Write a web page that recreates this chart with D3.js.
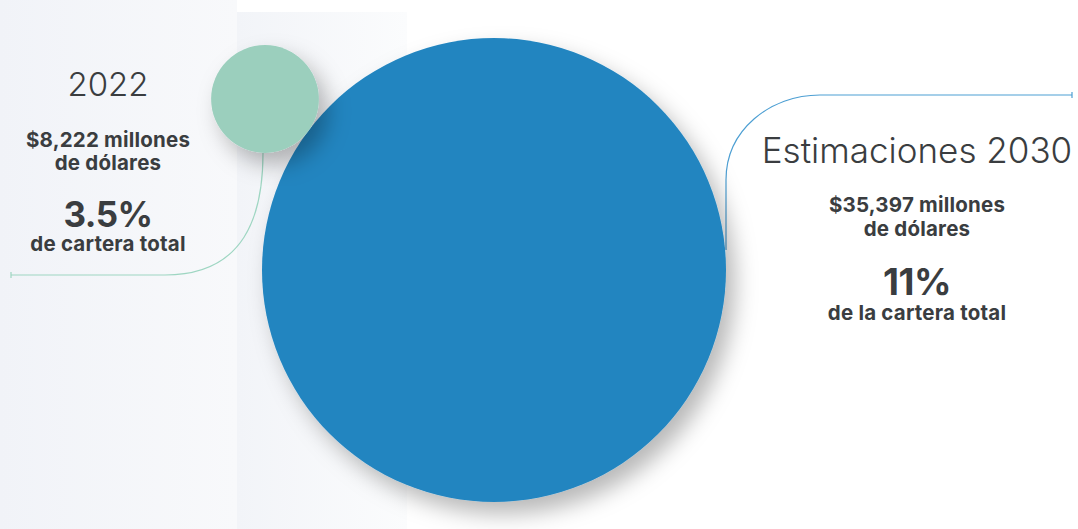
<!DOCTYPE html>
<html>
<head>
<meta charset="utf-8">
<script src="https://cdn.jsdelivr.net/npm/d3@7"></script>
<style>
  html, body { margin: 0; padding: 0; background: #ffffff; }
  svg { display: block; font-family: 'Inter', 'Noto Sans', sans-serif; }
</style>
</head>
<body>
<div id="chart"></div>
<script>
// Chart data
const categories = ['2022', 'Estimaciones 2030'];
const values = [8222, 35397];
const amountLabels = ['$8,222 millones', '$35,397 millones'];
const unitLabels = ['de dólares', 'de dólares'];
const shareLabels = ['3.5%', '11%'];
const shareNotes = ['de cartera total', 'de la cartera total'];

const width = 1078;
const height = 529;

const svg = d3.select('#chart')
  .append('svg')
  .attr('width', width)
  .attr('height', height);

const defs = svg.append('defs');

// Background panels
const g1 = defs.append('linearGradient').attr('id', 'bg1');
g1.append('stop').attr('offset', '0%').attr('stop-color', '#f1f3f8');
g1.append('stop').attr('offset', '100%').attr('stop-color', '#f8f9fb');
const g2 = defs.append('linearGradient').attr('id', 'bg2');
g2.append('stop').attr('offset', '0%').attr('stop-color', '#f2f4f8');
g2.append('stop').attr('offset', '100%').attr('stop-color', '#fbfcfd');

svg.append('rect').attr('x', 0).attr('y', 0).attr('width', 237).attr('height', height).attr('fill', 'url(#bg1)');
svg.append('rect').attr('x', 237).attr('y', 12).attr('width', 170).attr('height', height - 12).attr('fill', 'url(#bg2)');

// Drop shadow for bubbles
const shadow = defs.append('filter').attr('id', 'shadow')
  .attr('x', '-30%').attr('y', '-30%').attr('width', '160%').attr('height', '160%');
shadow.append('feDropShadow')
  .attr('dx', 9).attr('dy', 12)
  .attr('stdDeviation', 11)
  .attr('flood-color', '#000000')
  .attr('flood-opacity', 0.28);

// Scales
const rScale = d3.scaleLinear().domain([0, d3.max(values)]).range([0, 232]);
const cx = d3.scaleOrdinal().domain(categories).range([265, 494]);
const cy = d3.scaleOrdinal().domain(categories).range([99, 270]);
const color = d3.scaleOrdinal().domain(categories).range(['#9bcfbd', '#2285c0']);
const lineColor = d3.scaleOrdinal().domain(categories).range(['#9ed6c2', '#4d9fd3']);

// Connector lines
const rSmall = rScale(values[0]);
const rBig = rScale(values[1]);
const pathSmall = d3.path();
pathSmall.moveTo(cx(categories[0]) - 2, cy(categories[0]) + rSmall);
pathSmall.bezierCurveTo(cx(categories[0]) - 2, 215, cx(categories[0]) - 20, 275, 165, 275);
pathSmall.lineTo(11, 275);
const pathBig = d3.path();
pathBig.moveTo(cx(categories[1]) + rBig, 250);
pathBig.lineTo(cx(categories[1]) + rBig, 180);
pathBig.bezierCurveTo(cx(categories[1]) + rBig, 130, 770, 95, 820, 95);
pathBig.lineTo(1072, 95);

svg.append('path').attr('d', pathSmall.toString())
  .attr('fill', 'none').attr('stroke', lineColor(categories[0])).attr('stroke-width', 1.2);
svg.append('line').attr('x1', 11).attr('x2', 11).attr('y1', 272).attr('y2', 278)
  .attr('stroke', lineColor(categories[0])).attr('stroke-width', 1.2);
svg.append('path').attr('d', pathBig.toString())
  .attr('fill', 'none').attr('stroke', lineColor(categories[1])).attr('stroke-width', 1.2);
svg.append('line').attr('x1', 1072).attr('x2', 1072).attr('y1', 92).attr('y2', 98)
  .attr('stroke', lineColor(categories[1])).attr('stroke-width', 1.2);

// Bubbles (big one first, small one on top so its shadow falls on the big one)
const order = categories.map((c, i) => i).reverse();
svg.selectAll('circle.bubble')
  .data(order)
  .enter()
  .append('circle')
  .attr('class', 'bubble')
  .attr('cx', i => cx(categories[i]))
  .attr('cy', i => cy(categories[i]))
  .attr('r', i => rScale(values[i]))
  .attr('fill', i => color(categories[i]))
  .attr('filter', 'url(#shadow)');

// Labels
const textColor = '#3a3d40';
const labelX = [108, 917];
const blocks = [
  { title: 96, amount: 147, unit: 170, share: 227, note: 251, titleSize: 33, shareSize: 35 },
  { title: 163, amount: 212, unit: 236, share: 295, note: 320, titleSize: 35, shareSize: 37 }
];

categories.forEach((c, i) => {
  const b = blocks[i];
  const g = svg.append('g').attr('text-anchor', 'middle').attr('fill', textColor);
  g.append('text').attr('x', labelX[i]).attr('y', b.title)
    .attr('font-size', b.titleSize).attr('font-weight', 300).text(c);
  g.append('text').attr('x', labelX[i]).attr('y', b.amount)
    .attr('font-size', 20.5).attr('font-weight', 700).attr('letter-spacing', 0.2).text(amountLabels[i]);
  g.append('text').attr('x', labelX[i]).attr('y', b.unit)
    .attr('font-size', 20.5).attr('font-weight', 700).attr('letter-spacing', 0.2).text(unitLabels[i]);
  g.append('text').attr('x', labelX[i]).attr('y', b.share)
    .attr('font-size', b.shareSize).attr('font-weight', 700).attr('letter-spacing', -0.5).text(shareLabels[i]);
  g.append('text').attr('x', labelX[i]).attr('y', b.note)
    .attr('font-size', 20.5).attr('font-weight', 700).attr('letter-spacing', 0.2).text(shareNotes[i]);
});
</script>
</body>
</html>
